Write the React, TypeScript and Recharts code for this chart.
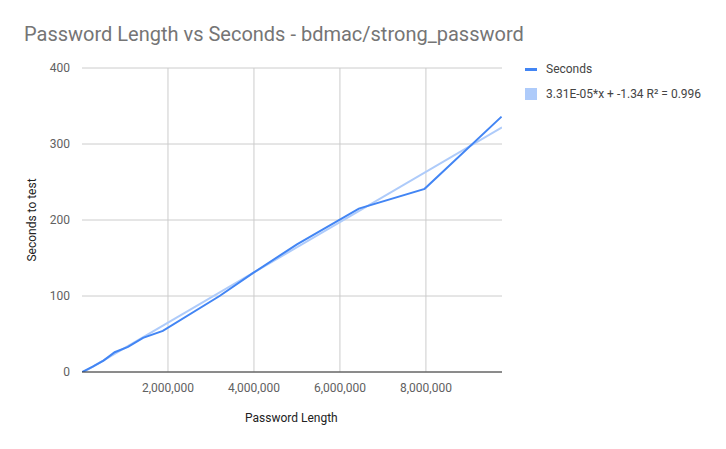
import { LineChart, Line, XAxis, YAxis, CartesianGrid, ReferenceLine } from 'recharts';

const passwordLengths = [0, 250000, 500000, 760000, 1070000, 1420000, 1880000, 3200000, 4000000, 5000000, 6440000, 7970000, 9760000];
const seconds = [0, 7, 15, 26, 33, 45, 54, 100, 131, 168, 215, 241, 336];
const trendLengths = [0, 9770000];
const trendSeconds = [-1.34, 322];
const xTicks = [2000000, 4000000, 6000000, 8000000];
const yTicks = [0, 100, 200, 300, 400];
const trendLabel = '3.31E-05*x + -1.34 R² = 0.996';

const secondsData = passwordLengths.map((len, i) => ({ len, value: seconds[i] }));
const trendData = trendLengths.map((len, i) => ({ len, value: trendSeconds[i] }));

const font = 'Roboto, Arial, sans-serif';

const LegendBox = () => (
  <div style={{ position: 'absolute', left: 525, top: 61, fontFamily: font, fontSize: 12, color: '#444' }}>
    <div style={{ display: 'flex', alignItems: 'center', height: 16, marginBottom: 9 }}>
      <span style={{ width: 12, height: 3, background: '#4285f4', marginRight: 9 }} />
      <span>Seconds</span>
    </div>
    <div style={{ display: 'flex', alignItems: 'center', height: 16 }}>
      <span style={{ width: 12, height: 12, background: '#aecbfa', marginRight: 9 }} />
      <span>{trendLabel}</span>
    </div>
  </div>
);

const App = () => {
  return (
    <div style={{ position: 'absolute', left: 0, top: 0, width: 726, height: 449, background: '#fff' }}>
      <LineChart width={726} height={449} margin={{ top: 68, right: 224, bottom: 47, left: 22 }}>
        <CartesianGrid stroke="#cccccc" strokeWidth={1} vertical={false} />
        {xTicks.map((t) => (
          <ReferenceLine key={t} x={t} stroke="#cccccc" strokeWidth={1} />
        ))}
        <XAxis
          dataKey="len"
          type="number"
          domain={[0, 9770000]}
          ticks={xTicks}
          interval={0}
          allowDataOverflow
          tickFormatter={(v: number) => v.toLocaleString('en-US')}
          tickLine={false}
          axisLine={{ stroke: '#333', strokeWidth: 1 }}
          tickMargin={5}
          height={30}
          tick={{ fill: '#616161', fontSize: 12, fontFamily: font }}
        />
        <YAxis
          type="number"
          domain={[0, 400]}
          ticks={yTicks}
          interval={0}
          allowDataOverflow
          tickLine={false}
          axisLine={false}
          tickMargin={6}
          width={60}
          tick={{ fill: '#616161', fontSize: 12, fontFamily: font }}
        />
        <Line
          data={trendData}
          dataKey="value"
          name={trendLabel}
          stroke="#aecbfa"
          strokeWidth={2}
          dot={false}
          type="linear"
          isAnimationActive={false}
        />
        <Line
          data={secondsData}
          dataKey="value"
          name="Seconds"
          stroke="#4285f4"
          strokeWidth={2}
          dot={false}
          type="linear"
          isAnimationActive={false}
        />
      </LineChart>
      <div style={{ position: 'absolute', left: 24, top: 22, fontFamily: font, fontSize: 20, color: '#757575' }}>
        Password Length vs Seconds - bdmac/strong_password
      </div>
      <div style={{ position: 'absolute', left: 245, top: 411, fontFamily: font, fontSize: 12, color: '#222' }}>
        Password Length
      </div>
      <div
        style={{
          position: 'absolute',
          left: 32,
          top: 220,
          transform: 'translate(-50%, -50%) rotate(-90deg)',
          fontFamily: font,
          fontSize: 12,
          color: '#222',
          whiteSpace: 'nowrap',
        }}
      >
        Seconds to test
      </div>
      <LegendBox />
    </div>
  );
};

export default App;
